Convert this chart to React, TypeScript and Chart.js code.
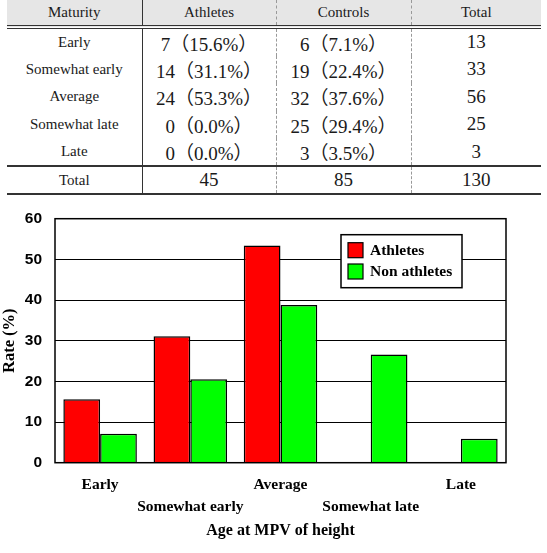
import React, { useEffect, useRef } from "react";
import { Chart, registerables } from "chart.js";
Chart.register(...registerables);

// ---- Table data ----
const maturity = ["Early", "Somewhat early", "Average", "Somewhat late", "Late"];
const athletesN = [7, 14, 24, 0, 0];
const athletesPct = ["15.6", "31.1", "53.3", "0.0", "0.0"];
const controlsN = [6, 19, 32, 25, 3];
const controlsPct = ["7.1", "22.4", "37.6", "29.4", "3.5"];
const rowTotals = [13, 33, 56, 25, 3];
const colTotals = [45, 85, 130];
const headers = ["Maturity", "Athletes", "Controls", "Total"];

// ---- Chart data ----
const chartCategories = [
  ["Early", ""],
  ["", "Somewhat early"],
  ["Average", ""],
  ["", "Somewhat late"],
  ["Late", ""],
];
const athletesRate = [15.6, 31.1, 53.4, 0, 0];
const nonAthletesRate = [7.1, 20.5, 38.8, 26.6, 5.9];
const seriesLabels = ["Athletes", "Non athletes"];
const yMin = 0;
const yMax = 60;
const yStep = 10;

const SERIF = "'Liberation Serif', 'Times New Roman', serif";
const TABLE_FONT = "'Liberation Serif', 'Noto Sans CJK JP', serif";

const boxLegend = {
  id: "boxLegend",
  afterDraw(chart: any) {
    const { ctx, chartArea } = chart;
    ctx.save();
    ctx.strokeStyle = "#000";
    ctx.lineWidth = 1.5;
    ctx.strokeRect(
      chartArea.left,
      chartArea.top,
      chartArea.right - chartArea.left,
      chartArea.bottom - chartArea.top
    );
    const x = chartArea.right - 165;
    const y = chartArea.top + 16;
    const w = 121;
    const h = 53;
    ctx.fillStyle = "#fff";
    ctx.fillRect(x, y, w, h);
    ctx.lineWidth = 1.5;
    ctx.strokeRect(x, y, w, h);
    chart.data.datasets.forEach((ds: any, i: number) => {
      const sy = y + 8 + i * 21.3;
      ctx.fillStyle = ds.backgroundColor;
      ctx.fillRect(x + 7, sy, 15, 15);
      ctx.lineWidth = 1.2;
      ctx.strokeStyle = "#000";
      ctx.strokeRect(x + 7, sy, 15, 15);
      ctx.fillStyle = "#000";
      ctx.font = "bold 15.5px " + SERIF;
      ctx.textBaseline = "middle";
      ctx.textAlign = "left";
      ctx.fillText(ds.label, x + 29, sy + 8);
    });
    ctx.restore();
  },
};

function BarChart() {
  const ref = useRef<HTMLCanvasElement>(null);
  useEffect(() => {
    if (!ref.current) return;
    const chart = new Chart(ref.current, {
      type: "bar",
      data: {
        labels: chartCategories as any,
        datasets: [
          {
            label: seriesLabels[0],
            data: athletesRate,
            backgroundColor: "#ff0000",
            borderColor: "#000",
            borderWidth: 1.5,
            barPercentage: 1,
            categoryPercentage: 0.815,
          },
          {
            label: seriesLabels[1],
            data: nonAthletesRate,
            backgroundColor: "#00ff00",
            borderColor: "#000",
            borderWidth: 1.5,
            barPercentage: 1,
            categoryPercentage: 0.815,
          },
        ],
      },
      options: {
        animation: false,
        responsive: false,
        maintainAspectRatio: false,
        layout: { padding: { top: 23.7, right: 41, left: 0, bottom: 0 } },
        plugins: {
          legend: { display: false },
          tooltip: { enabled: false },
        },
        scales: {
          x: {
            grid: { display: false },
            border: { display: false },
            ticks: {
              color: "#000",
              font: { family: SERIF, weight: "bold", size: 15.5, lineHeight: 1.37 },
              maxRotation: 0,
              autoSkip: false,
              padding: 4,
            },
            title: {
              display: true,
              text: "Age at MPV of height",
              color: "#000",
              font: { family: SERIF, weight: "bold", size: 16 },
              padding: { top: 0, bottom: 13 },
            },
            afterFit: (s: any) => {
              s.height = 90.3;
            },
          },
          y: {
            min: yMin,
            max: yMax,
            ticks: {
              stepSize: yStep,
              color: "#000",
              font: { family: "'Liberation Sans', Arial, sans-serif", weight: "bold", size: 15.5 },
              padding: 13,
            },
            grid: { color: "#000", lineWidth: 1, drawTicks: false },
            border: { display: false },
            title: {
              display: true,
              text: "Rate (%)",
              color: "#000",
              font: { family: SERIF, weight: "bold", size: 16.5 },
              padding: { top: 0, bottom: 0 },
            },
            afterFit: (s: any) => {
              s.width = 55;
            },
          },
        },
      },
      plugins: [boxLegend],
    });
    return () => chart.destroy();
  }, []);
  return (
    <canvas
      ref={ref}
      width={547}
      height={358}
      style={{ position: "absolute", left: 0, top: 195, width: 547, height: 358 }}
    />
  );
}

const numCell: React.CSSProperties = {
  fontSize: 19,
  textAlign: "center",
  padding: 0,
};
const labelCell: React.CSSProperties = {
  fontSize: 15,
  textAlign: "center",
  padding: 0,
};

function DataTable() {
  const vSolid = "1.5px solid #333";
  const vDash = "1px dashed #999";
  return (
    <table
      style={{
        position: "absolute",
        left: 7,
        top: 0,
        width: 534,
        borderCollapse: "collapse",
        tableLayout: "fixed",
        fontFamily: TABLE_FONT,
        color: "#1a1a1a",
      }}
    >
      <colgroup>
        <col style={{ width: 135 }} />
        <col style={{ width: 134 }} />
        <col style={{ width: 135 }} />
        <col style={{ width: 130 }} />
      </colgroup>
      <thead>
        <tr style={{ height: 26.5, background: "#e6e6e6" }}>
          {headers.map((h, i) => (
            <th
              key={h}
              style={{
                ...labelCell,
                fontWeight: "normal",
                borderBottom: "4px double #333",
                borderRight: i === 0 ? vSolid : i < 3 ? vDash : "none",
              }}
            >
              {h}
            </th>
          ))}
        </tr>
      </thead>
      <tbody>
        {maturity.map((m, r) => (
          <tr key={m} style={{ height: 27.6 }}>
            <td style={{ ...labelCell, borderRight: vSolid }}>{m}</td>
            <td style={{ ...numCell, borderRight: vDash }}>
              {athletesN[r]}（{athletesPct[r]}%）
            </td>
            <td style={{ ...numCell, borderRight: vDash }}>
              {controlsN[r]}（{controlsPct[r]}%）
            </td>
            <td style={numCell}>{rowTotals[r]}</td>
          </tr>
        ))}
        <tr style={{ height: 28, borderTop: "2px solid #333", borderBottom: "2px solid #333" }}>
          <td style={{ ...labelCell, borderRight: vSolid }}>Total</td>
          <td style={{ ...numCell, borderRight: vDash }}>{colTotals[0]}</td>
          <td style={{ ...numCell, borderRight: vDash }}>{colTotals[1]}</td>
          <td style={numCell}>{colTotals[2]}</td>
        </tr>
      </tbody>
    </table>
  );
}

export default function App() {
  return (
    <div
      style={{
        position: "absolute",
        left: 0,
        top: 0,
        width: 547,
        height: 553,
        background: "#fff",
        overflow: "hidden",
      }}
    >
      <DataTable />
      <BarChart />
    </div>
  );
}
